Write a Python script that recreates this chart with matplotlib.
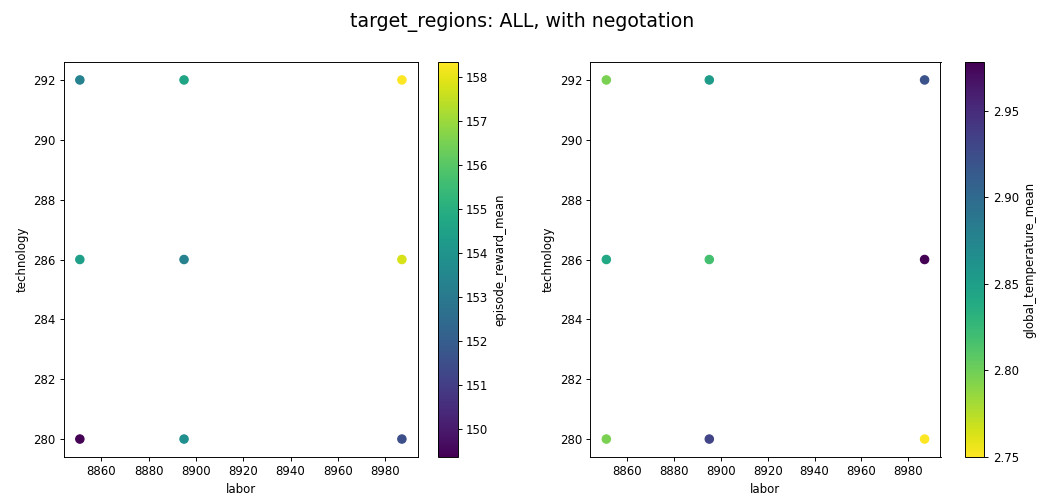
import numpy as np
import matplotlib
matplotlib.use("Agg")
import matplotlib.pyplot as plt

# grid of runs
labor = [8851, 8895, 8987, 8851, 8895, 8987, 8851, 8895, 8987]
technology = [292, 292, 292, 286, 286, 286, 280, 280, 280]

episode_reward_mean = [153.3, 154.6, 158.34, 154.4, 153.3, 157.8, 149.36, 153.8, 151.5]
global_temperature_mean = [2.796, 2.853, 2.921, 2.841, 2.818, 2.978, 2.796, 2.932, 2.750]

fig = plt.figure(figsize=(1045 / 85, 500 / 85), dpi=85)
fig.suptitle("target_regions: ALL, with negotation", fontsize=16, y=0.975)

ax1 = fig.add_axes([0.061, 0.086, 0.339, 0.790])
cax1 = fig.add_axes([0.419, 0.086, 0.019, 0.790])
ax2 = fig.add_axes([0.565, 0.086, 0.335, 0.790])
cax2 = fig.add_axes([0.923, 0.086, 0.019, 0.790])

sc1 = ax1.scatter(labor, technology, c=episode_reward_mean, cmap="viridis", s=50)
cb1 = fig.colorbar(sc1, cax=cax1)
cb1.set_label("episode_reward_mean")
ax1.set_xlabel("labor")
ax1.set_ylabel("technology")

sc2 = ax2.scatter(labor, technology, c=global_temperature_mean, cmap="viridis_r", s=50)
cb2 = fig.colorbar(sc2, cax=cax2)
cb2.set_label("global_temperature_mean")
ax2.set_xlabel("labor")
ax2.set_ylabel("technology")

for ax in (ax1, ax2):
    ax.set_xticks(np.arange(8860, 8981, 20))
    ax.set_yticks(np.arange(280, 293, 2))

fig.savefig("out.png", dpi=85)
